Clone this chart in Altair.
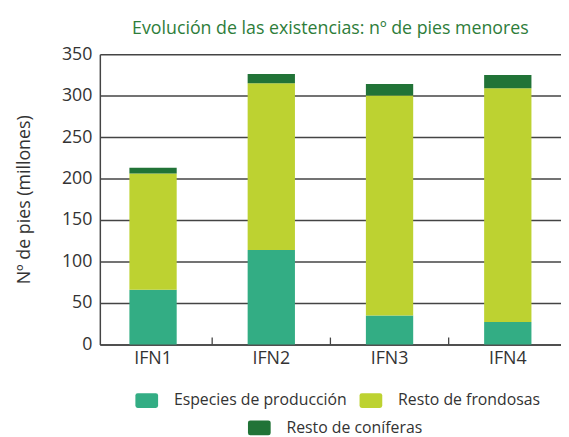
import altair as alt
import pandas as pd

inventarios = ["IFN1", "IFN2", "IFN3", "IFN4"]
grupos = ["Especies de producción", "Resto de frondosas", "Resto de coníferas"]
especies_produccion = [66, 114, 35, 27]
resto_frondosas = [140, 201, 265, 282]
resto_coniferas = [7, 11, 14, 16]
colores = ["#33ad84", "#bdd231", "#217337"]
y_ticks = [0, 50, 100, 150, 200, 250, 300, 350]

rows = []
for i, inv in enumerate(inventarios):
    for k, serie in enumerate([especies_produccion, resto_frondosas, resto_coniferas]):
        rows.append({"inventario": inv, "grupo": grupos[k], "orden": k, "valor": serie[i]})
df = pd.DataFrame(rows)

FONT = "Open Sans"
TXT = "#333333"
LINE = "#444444"
sym = ("M-0.8,-0.65 L0.8,-0.65 Q1,-0.65 1,-0.45 L1,0.45 Q1,0.65 0.8,0.65 "
       "L-0.8,0.65 Q-1,0.65 -1,0.45 L-1,-0.45 Q-1,-0.65 -0.8,-0.65 Z")

W, H = 467, 294
P_IN, P_OUT = 0.6, 0.25
STEP = W / (len(inventarios) - P_IN + 2 * P_OUT)
xscale = alt.Scale(domain=inventarios, paddingInner=P_IN, paddingOuter=P_OUT)
x_enc = alt.X("inventario:N", sort=inventarios, scale=xscale,
              axis=alt.Axis(title=None, labelAngle=0, ticks=False, domain=True,
                            domainColor=LINE, domainWidth=1.5, labelFontSize=18,
                            labelColor=TXT, labelPadding=5, labelFont=FONT))
y_enc = alt.Y("y0:Q", scale=alt.Scale(domain=[0, 350], nice=False),
              axis=alt.Axis(values=y_ticks, title="Nº de pies (millones)", grid=True,
                            gridColor=LINE, gridWidth=1.5, ticks=False,
                            domainColor=LINE, domainWidth=1.5, labelFontSize=18,
                            labelColor=TXT, labelPadding=8, labelFont=FONT,
                            titleFont=FONT, titleFontSize=18, titleFontWeight="normal",
                            titleColor=TXT, titlePadding=28))

base = alt.Chart(df).transform_stack(
    stack="valor", groupby=["inventario"], as_=["y0", "y1"],
    sort=[alt.SortField("orden", order="ascending")]
)

def legend(x, y):
    return alt.Legend(title=None, orient="none", legendX=x, legendY=y,
                      direction="horizontal", symbolType=sym, symbolSize=529,
                      symbolStrokeWidth=0, symbolOpacity=1, labelFontSize=16,
                      labelColor=TXT, labelFont=FONT, labelOffset=16,
                      columnPadding=12, labelLimit=400)

capa_a = base.transform_filter(alt.datum.orden < 2).mark_bar().encode(
    x=x_enc, y=y_enc, y2="y1:Q",
    color=alt.Color("grupo:N", sort=grupos[:2],
                    scale=alt.Scale(domain=grupos[:2], range=colores[:2]),
                    legend=legend(36, 339)),
)
capa_b = base.transform_filter(alt.datum.orden == 2).mark_bar().encode(
    x=x_enc, y=y_enc, y2="y1:Q",
    color=alt.Color("grupo:N",
                    scale=alt.Scale(domain=grupos[2:], range=colores[2:]),
                    legend=legend(150, 367)),
)
marcas = alt.Chart(pd.DataFrame({"inventario": inventarios[1:]})).mark_rule(
    color=LINE, strokeWidth=1.3, xOffset=-STEP * P_IN / 2
).encode(
    x=alt.X("inventario:N", sort=inventarios, scale=xscale, bandPosition=0),
    y=alt.value(H), y2=alt.value(H - 7),
)

chart = alt.layer(capa_a, capa_b, marcas).resolve_scale(color="independent").properties(
    width=W, height=H,
    padding={"left": 8, "top": 10, "right": 0, "bottom": 0},
    title=alt.TitleParams("Evolución de las existencias: nº de pies menores",
                          color="#2e7d3a", fontSize=18, fontWeight="normal",
                          font=FONT, anchor="middle", offset=7),
).configure_view(stroke=None)

chart.save("out.html", embed_options={"renderer": "svg", "actions": False})
